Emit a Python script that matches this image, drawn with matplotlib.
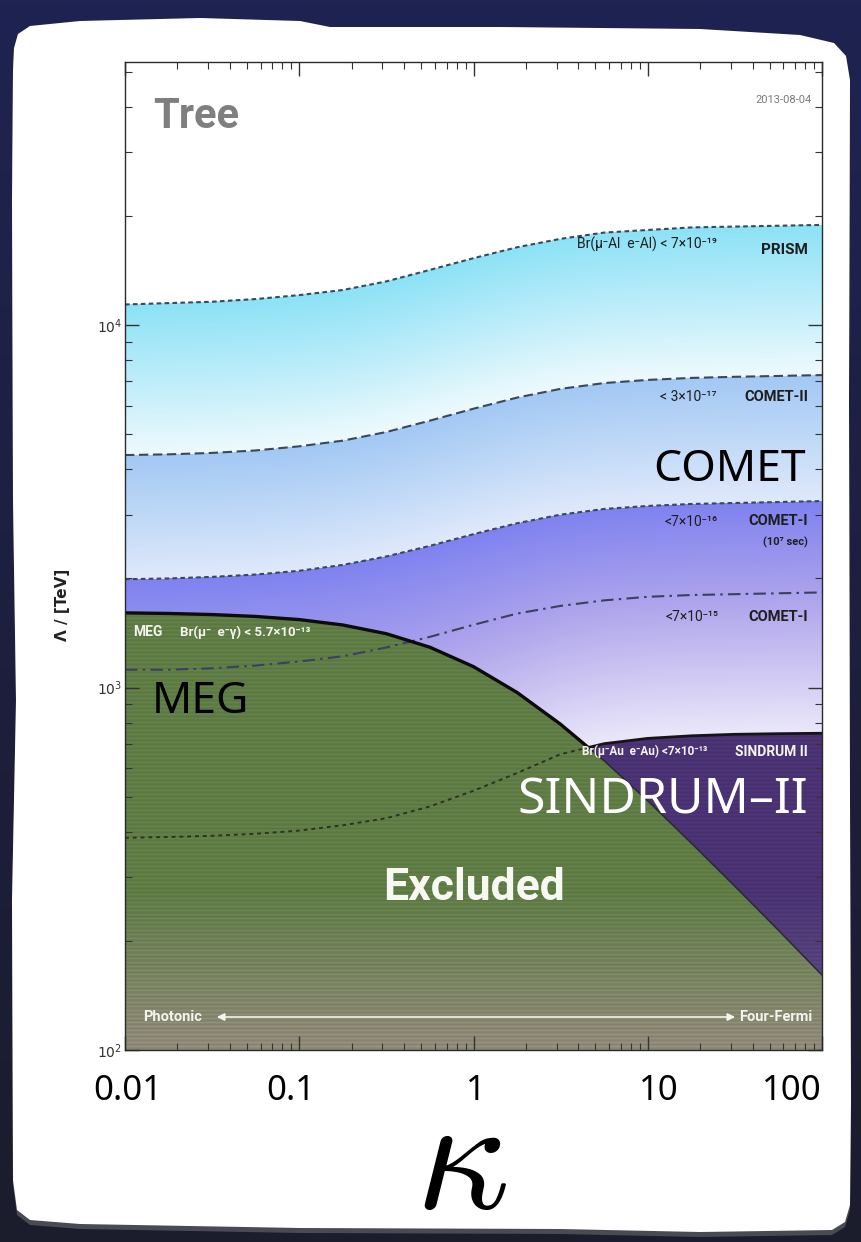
import numpy as np
import matplotlib.pyplot as plt
from matplotlib.patches import Polygon
from matplotlib.colors import to_rgb
from matplotlib.ticker import NullFormatter
from matplotlib.transforms import ScaledTranslation

plt.rcParams['mathtext.fontset'] = 'cm'

# kappa sampled every quarter decade
kappa = [0.01, 0.0178, 0.0316, 0.0562, 0.1, 0.178, 0.316, 0.562, 1.0,
         1.78, 3.16, 5.62, 10.0, 17.8, 31.6, 56.2, 100.0]

# reach in Lambda [TeV] for each bound / sensitivity
prism = [11400, 11500, 11600, 11800, 12100, 12500, 13200, 14200, 15300,
         16400, 17300, 18000, 18300, 18600, 18700, 18800, 18900]
comet2 = [4380, 4400, 4440, 4510, 4630, 4800, 5070, 5450, 5880,
          6310, 6670, 6920, 7060, 7150, 7200, 7240, 7280]
comet1_1e7 = [1990, 2000, 2020, 2050, 2100, 2180, 2300, 2460, 2650,
              2840, 3000, 3110, 3170, 3210, 3230, 3250, 3270]
comet1 = [1120, 1120, 1130, 1150, 1180, 1220, 1290, 1380, 1490,
          1600, 1680, 1740, 1780, 1800, 1810, 1820, 1830]
sindrum = [385, 387, 390, 395, 403, 417, 436, 470, 519,
           581, 655, 700, 724, 736, 743, 746, 748]
meg = [1607, 1601, 1590, 1571, 1540, 1488, 1408, 1292, 1142,
       969, 792, 628, 487, 372, 283, 214, 161]

xtick_vals = [0.01, 0.1, 1, 10, 100]
xtick_text = ['0.01', '0.1', '1', '10', '100']
ytick_vals = [100, 1000, 10000]

NARROW = ['Roboto', 'DejaVu Sans']

W, H = 861, 1242
YMAX = 5.32e4
fig = plt.figure(figsize=(W / 100, H / 100), dpi=100)

# dark page background
bg = fig.add_axes([0, 0, 1, 1], zorder=-10)
grad = np.linspace(0, 1, 256)[:, None, None]
top_c, bot_c = np.array(to_rgb('#1f2351')), np.array(to_rgb('#1b1c2c'))
bg.imshow(top_c * (1 - grad) + bot_c * grad, extent=[0, 1, 0, 1], aspect='auto')
bg.axis('off')

# white card with slightly uneven edges
card_px = [(14, 48), (18, 34), (30, 26), (80, 21), (200, 18), (300, 21), (330, 27),
           (500, 27), (700, 29), (800, 35), (834, 43), (846, 56), (850, 80),
           (849, 400), (850, 800), (851, 1100), (850, 1205), (845, 1222), (832, 1230),
           (700, 1232), (560, 1229), (300, 1228), (80, 1224), (30, 1220), (17, 1210),
           (13, 1180), (12, 900), (16, 700), (13, 500), (12, 200), (13, 70)]
shadow = Polygon([(x / W, 1 - (y + 5) / H) for x, y in card_px], closed=True,
                 transform=fig.transFigure, facecolor='#4a4a52', edgecolor='none', zorder=-9)
card = Polygon([(x / W, 1 - y / H) for x, y in card_px], closed=True,
               transform=fig.transFigure, facecolor='white', edgecolor='none', zorder=-8)
fig.patches.extend([shadow, card])

L, R, T, B = 125, 822, 62, 1050
rect = [L / W, 1 - B / H, (R - L) / W, (B - T) / H]

# shaded regions, coloured column by column between the curves (log-log space)
img_ax = fig.add_axes(rect, zorder=0)
ncol, nrow = R - L, B - T
ytop = np.log10(YMAX)
lk = np.log10(kappa)
xs = -2 + (np.arange(ncol) + 0.5) * 4 / ncol
ys = ytop - (np.arange(nrow) + 0.5) * (ytop - 2) / nrow
Y = np.repeat(ys[:, None], ncol, axis=1)


def curve(v):
    return np.interp(xs, lk, np.log10(v))[None, :]


P, C2, C1L, C1, S, M = [curve(v) for v in (prism, comet2, comet1_1e7, comet1, sindrum, meg)]


def ramp(stops, t):
    pos = [p for p, _ in stops]
    cols = np.array([to_rgb(c) for _, c in stops])
    t = np.clip(t, 0, 1)
    return np.stack([np.interp(t, pos, cols[:, k]) for k in range(3)], axis=-1)


img = np.ones((nrow, ncol, 3))
m = (Y <= P) & (Y > C2)
img[m] = ramp([(0, '#8ce2f6'), (0.5, '#bdedfa'), (1, '#eefafd')], (P - Y) / (P - C2))[m]
m = (Y <= C2) & (Y > C1L)
img[m] = ramp([(0, '#a2c8f4'), (0.6, '#c6dcf8'), (1, '#e0e9fb')], (C2 - Y) / (C2 - C1L))[m]
m = Y <= C1L
img[m] = ramp([(0, '#7f82f0'), (0.45, '#b1a7ec'), (1, '#ebe8fa')], (C1L - Y) / (C1L - S))[m]

rows = np.repeat(np.arange(nrow)[:, None], ncol, axis=1)
fade = np.clip((rows - 830) / 150, 0, 1)[..., None]
green = np.array(to_rgb('#5e7b45')) * (1 - fade) + np.array(to_rgb('#8d8877')) * fade
purple = np.array(to_rgb('#4a3272')) * (1 - fade) + np.array(to_rgb('#615284')) * fade
m = (Y <= S) & (Y > M)
img[m] = purple[m]
m = Y <= M
img[m] = green[m]

# scan-line texture on the excluded area
ex = Y <= np.maximum(S, M)
img[ex & (rows % 4 == 0)] *= 1.08
img[ex & (rows % 4 == 2)] *= 0.97
img = np.clip(img, 0, 1)

img_ax.imshow(img, extent=[-2, 2, 2, ytop], aspect='auto', interpolation='nearest')
img_ax.set_xlim(-2, 2)
img_ax.set_ylim(2, ytop)
img_ax.axis('off')

ax = fig.add_axes(rect, zorder=1)
ax.patch.set_alpha(0)
ax.set_xscale('log')
ax.set_yscale('log')
ax.set_xlim(0.01, 100)
ax.set_ylim(100, YMAX)

ax.plot(kappa, prism, color='#3b4856', lw=1.5, ls=(0, (2.2, 1.6)))
ax.plot(kappa, comet2, color='#3b4856', lw=1.5, ls=(0, (4.5, 2.2)))
ax.plot(kappa, comet1_1e7, color='#3b4856', lw=1.5, ls=(0, (2.2, 1.6)))
ax.plot(kappa, comet1, color='#3b4060', lw=1.5, ls=(0, (6, 2.5, 1.2, 2.5)))

# split MEG / SINDRUM II lines where each one is the stronger bound
above_sin = ax.fill_between(kappa, sindrum, 1e6, facecolor='none', lw=0)
below_sin = ax.fill_between(kappa, 1, sindrum, facecolor='none', lw=0)
above_meg = ax.fill_between(kappa, meg, 1e6, facecolor='none', lw=0)
below_meg = ax.fill_between(kappa, 1, meg, facecolor='none', lw=0)


def clipped(line, region):
    line.set_clip_path(region.get_paths()[0], ax.transData)


clipped(ax.plot(kappa, meg, color='#0c0c0c', lw=2.4)[0], above_sin)
clipped(ax.plot(kappa, meg, color='#2a2836', lw=1.1)[0], below_sin)
clipped(ax.plot(kappa, sindrum, color='#151515', lw=2.0)[0], above_meg)
clipped(ax.plot(kappa, sindrum, color='#2c3324', lw=1.4, ls=(0, (2, 2)))[0], below_meg)

ax.tick_params(which='both', direction='in', top=True, right=True, color='#333333')
ax.tick_params(which='major', length=10, width=1.0)
ax.tick_params(which='minor', length=5, width=0.8)
ax.tick_params(axis='y', labelsize=10, labelcolor='#333333', pad=2)
ax.set_yticks(ytick_vals)
ax.yaxis.set_minor_formatter(NullFormatter())
ax.set_xticks(xtick_vals, labels=xtick_text)
ax.xaxis.set_minor_formatter(NullFormatter())
ax.tick_params(axis='x', which='major', pad=17, labelsize=25, labelcolor='black')
xlabels = ax.get_xticklabels()
for lab, shift in zip(xlabels, [3, -8, 2, 11, 0]):
    lab.set_family('Noto Sans')
    lab.set_transform(lab.get_transform() + ScaledTranslation(shift / 100, 0, fig.dpi_scale_trans))
xlabels[-1].set_ha('right')
for sp in ax.spines.values():
    sp.set_color('#2a2a2a')
    sp.set_linewidth(1.0)

ax.set_xlabel(r'$\kappa$', fontsize=118)
ax.xaxis.label.set_va('baseline')
ax.xaxis.set_label_coords((461 - L) / (R - L), (B - 1208) / (B - T))
ax.set_ylabel('Λ / [TeV]', fontsize=11, weight='bold', color='#222222')
ax.yaxis.set_label_coords((70 - L) / (R - L), (B - 605) / (B - T))


def at(x, y):
    return (x - L) / (R - L), (B - y) / (B - T)


def note(x, y, s, **kw):
    opts = dict(transform=ax.transAxes, va='center', ha='right', fontsize=10,
                color='#1e1e1e', family=NARROW)
    opts.update(kw)
    ax.text(*at(x, y), s, **opts)


note(153, 117, 'Tree', ha='left', fontsize=30, weight='bold', color='#7f7f7f', family='Roboto')
note(812, 100, '2013-08-04', fontsize=8, color='#7a7a7a')
note(717, 244, 'Br(μ⁻Al  e⁻Al) < 7×10⁻¹⁹')
note(808, 250, 'PRISM', weight='bold', fontsize=11)
note(717, 397, '< 3×10⁻¹⁷')
note(808, 397, 'COMET-II', weight='bold', fontsize=10.5)
note(718, 522, '<7×10⁻¹⁶')
note(808, 521, 'COMET-I', weight='bold', fontsize=10.5)
note(808, 542, '(10⁷ sec)', weight='bold', fontsize=8)
note(718, 617, '<7×10⁻¹⁵')
note(808, 617, 'COMET-I', weight='bold', fontsize=10.5)
note(133, 632, 'MEG', ha='left', weight='bold', fontsize=10, color='#f4f4ee')
note(180, 632, 'Br(μ⁻  e⁻γ) < 5.7×10⁻¹³', ha='left', weight='bold', fontsize=9.5, color='#f4f4ee')
note(582, 751, 'Br(μ⁻Au  e⁻Au) <7×10⁻¹³', ha='left', weight='bold', fontsize=8.5, color='#f4f4ee')
note(808, 752, 'SINDRUM II', weight='bold', fontsize=10, color='#f4f4ee')
note(474, 888, 'Excluded', ha='center', weight='bold', fontsize=32, color='#f8f8f2', family='Roboto')
note(143, 1017, 'Photonic', ha='left', weight='bold', fontsize=10.5, color='#f4f4ee')
note(812, 1017, 'Four-Fermi', weight='bold', fontsize=10.5, color='#f4f4ee')
ax.annotate('', xy=at(214, 1017), xytext=at(738, 1017), xycoords='axes fraction',
            arrowprops=dict(arrowstyle='<|-|>', color='#f4f4ee', lw=1.2, mutation_scale=11))

# large experiment names
big = dict(transform=ax.transAxes, va='baseline', family='Noto Sans')
ax.text(*at(806, 481), 'COMET', ha='right', fontsize=32, color='black', **big)
ax.text(*at(152, 713), 'MEG', ha='left', fontsize=32, color='black', **big)
ax.text(*at(808, 813), 'SINDRUM–II', ha='right', fontsize=36, color='white', **big)

fig.savefig('out.png', dpi=100, facecolor=fig.get_facecolor())
